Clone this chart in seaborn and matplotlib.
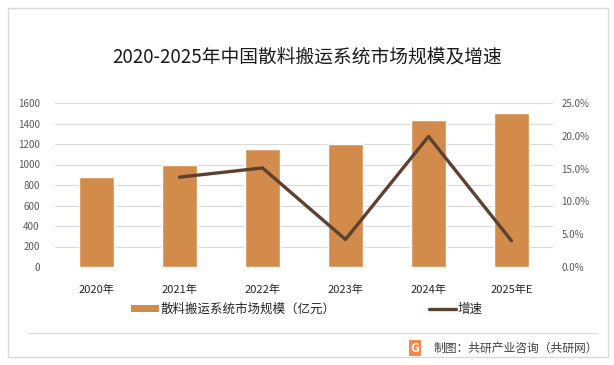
import numpy as np
import pandas as pd
import seaborn as sns
import matplotlib.pyplot as plt
from matplotlib.patches import Rectangle, Patch
from matplotlib.lines import Line2D

# chart data
years = ['2020年', '2021年', '2022年', '2023年', '2024年', '2025年E']
market_size = [880, 995, 1150, 1200, 1435, 1500]
growth = [np.nan, 13.7, 15.1, 4.2, 19.9, 4.0]

bar_color = '#D38B4C'
line_color = '#5C4030'

sns.set_theme(style='white')
plt.rcParams['font.family'] = ['Noto Sans CJK SC', 'DejaVu Sans']

df = pd.DataFrame({'year': years, 'size': market_size, 'growth': growth})

fig = plt.figure(figsize=(6.14, 3.65), dpi=100)
ax = fig.add_axes([55 / 614, 1 - 267 / 365, 498 / 614, 164 / 365])

# outer frame
fig.patches.append(Rectangle((8 / 614, 8 / 365), 600 / 614, 349 / 365, transform=fig.transFigure,
                             fill=False, edgecolor='#D9D9D9', linewidth=1.0))

sns.barplot(data=df, x='year', y='size', color=bar_color, width=0.41, saturation=1, ax=ax)
ax.set_ylim(0, 1600)
ax.set_yticks(range(0, 1601, 200))
ax.yaxis.grid(True, color='#D9D9D9', linewidth=0.8)
ax.set_axisbelow(True)
ax.set_xlabel('')
ax.set_ylabel('')
for s in ax.spines.values():
    s.set_visible(False)
ax.tick_params(axis='y', length=0, labelsize=7, labelcolor='#595959', pad=11)
ax.tick_params(axis='x', length=0, labelsize=8, labelcolor='#262626', pad=13)

ax2 = ax.twinx()
sns.lineplot(x=np.arange(len(years)), y=df['growth'], color=line_color, linewidth=2.4, ax=ax2)
ax2.set_ylim(0, 25)
ax2.set_yticks(np.arange(0, 25.1, 5))
ax2.set_yticklabels([f'{v:.1f}%' for v in np.arange(0, 25.1, 5)])
ax2.set_ylabel('')
for s in ax2.spines.values():
    s.set_visible(False)
ax2.tick_params(axis='y', length=0, labelsize=7, labelcolor='#595959', pad=6)
ax.set_xlim(-0.5, len(years) - 0.5)

fig.text(0.5, 1 - 57 / 365, '2020-2025年中国散料搬运系统市场规模及增速', ha='center', va='center',
         fontsize=13.5, color='#1a1a1a')

handles = [Patch(facecolor=bar_color, edgecolor='none'),
           Line2D([0], [0], color=line_color, linewidth=2.4)]
fig.legend(handles, ['散料搬运系统市场规模（亿元）', '增速'], loc='center',
           bbox_to_anchor=(0.5, 1 - 309 / 365), ncol=2, frameon=False, fontsize=9,
           handlelength=2.2, handleheight=0.5, columnspacing=7.5, handletextpad=0.1)

# separator and source
fig.add_artist(Line2D([28 / 614, 597 / 614], [1 - 333 / 365, 1 - 333 / 365],
                      transform=fig.transFigure, color='#D9D9D9', linewidth=0.8))
fig.text(415 / 614, 1 - 348 / 365, 'G', ha='center', va='center', fontsize=9,
         color='white', fontweight='bold',
         bbox=dict(boxstyle='square,pad=0.15', facecolor='#F08A4B', edgecolor='none'))
fig.text(598 / 614, 1 - 348 / 365, '制图：共研产业咨询（共研网）', ha='right', va='center',
         fontsize=8.5, color='#404040')

fig.savefig('out.png', dpi=100)
